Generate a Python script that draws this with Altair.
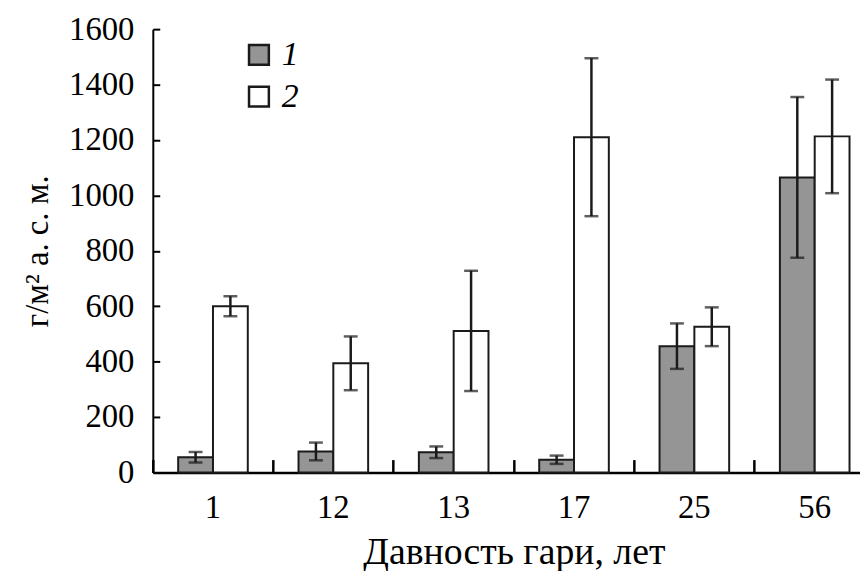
import altair as alt
import pandas as pd

categories = ["1", "12", "13", "17", "25", "56"]
series_names = ["1", "2"]
s1_mean = [55, 76, 73, 46, 456, 1065]
s1_err = [19, 32, 21, 15, 82, 290]
s2_mean = [600, 394, 511, 1210, 526, 1213]
s2_err = [36, 97, 217, 285, 70, 205]
y_ticks = [0, 200, 400, 600, 800, 1000, 1200, 1400, 1600]

rows = []
for i, c in enumerate(categories):
    for s, m, e in (("1", s1_mean[i], s1_err[i]), ("2", s2_mean[i], s2_err[i])):
        rows.append({"cat": c, "series": s, "mean": m, "lo": m - e, "hi": m + e})
df = pd.DataFrame(rows)

FONT = "Liberation Serif"
W, H = 728, 447
INK = "#1a1a1a"
LBL = dict(labelFont=FONT, labelFontSize=33, labelColor="black",
           titleFont=FONT, titleColor="black", titleFontWeight="normal")

xscale = alt.Scale(domain=categories, paddingInner=0, paddingOuter=0)
xoff = alt.Scale(domain=series_names, paddingInner=0, paddingOuter=0.7286)
yscale = alt.Scale(domain=[0, 1600], nice=False)

base = alt.Chart(df)

bars = base.mark_bar(stroke=INK, strokeWidth=2).encode(
    x=alt.X("cat:N", scale=xscale, sort=categories,
            axis=alt.Axis(title="Давность гари, лет", ticks=False, tickSize=0,
                          labelAngle=0, labelPadding=19, domainColor="black",
                          domainWidth=2.5, titlePadding=10, titleFontSize=38, **LBL)),
    xOffset=alt.XOffset("series:N", scale=xoff, sort=series_names),
    y=alt.Y("mean:Q", scale=yscale,
            axis=alt.Axis(title="г/м² а. с. м.", values=y_ticks, ticks=False, format="d",
                          tickSize=0, labelPadding=19, domainColor="black",
                          domainWidth=2, grid=False, titlePadding=14, titleFontSize=33,
                          **LBL)),
    color=alt.Color("series:N",
                    scale=alt.Scale(domain=series_names, range=["#959595", "#ffffff"]),
                    legend=alt.Legend(title=None, orient="none", legendX=90, legendY=9,
                                      symbolType="square", symbolSize=400,
                                      symbolStrokeColor=INK, symbolStrokeWidth=2.5,
                                      labelFont=FONT, labelFontSize=34,
                                      labelFontStyle="italic", labelColor="black",
                                      labelOffset=6, rowPadding=8, padding=0)),
)

rules = base.mark_rule(color=INK, strokeWidth=2.5).encode(
    x=alt.X("cat:N", scale=xscale, sort=categories,
            axis=alt.Axis(orient="top", offset=-H, title=None, labels=False,
                          domain=False, ticks=True, tickSize=13, tickWidth=2.5,
                          tickColor="black", bandPosition=0, grid=False)),
    xOffset=alt.XOffset("series:N", scale=xoff, sort=series_names),
    y=alt.Y("lo:Q", scale=yscale,
            axis=alt.Axis(orient="right", offset=-W, title=None, labels=False,
                          domain=False, ticks=True, tickSize=7, tickWidth=2,
                          tickColor="black", values=y_ticks, grid=False)),
    y2="hi:Q",
)

cap_lo = base.mark_tick(color=INK, size=14, thickness=2.5).encode(
    x=alt.X("cat:N", scale=xscale, sort=categories, axis=None),
    xOffset=alt.XOffset("series:N", scale=xoff, sort=series_names),
    y=alt.Y("lo:Q", scale=yscale, axis=None),
)
cap_hi = base.mark_tick(color=INK, size=14, thickness=2.5).encode(
    x=alt.X("cat:N", scale=xscale, sort=categories, axis=None),
    xOffset=alt.XOffset("series:N", scale=xoff, sort=series_names),
    y=alt.Y("hi:Q", scale=yscale, axis=None),
)

chart = alt.layer(bars, rules, cap_lo, cap_hi).resolve_axis(
    x="independent", y="independent"
).properties(
    width=W, height=H,
    autosize=alt.AutoSizeParams(type="none"),
    padding={"left": 146, "top": 19, "right": -15, "bottom": 97},
    background="white",
).configure_view(stroke=None)

chart.save("out.html", embed_options={"renderer": "svg", "actions": False})
